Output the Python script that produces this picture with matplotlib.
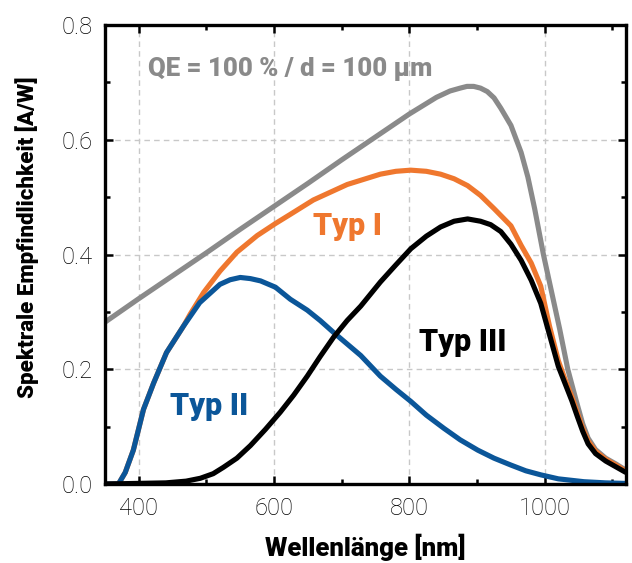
import matplotlib
matplotlib.use('Agg')
import matplotlib.pyplot as plt
from matplotlib.ticker import MultipleLocator, FormatStrFormatter

# wavelengths [nm] and responsivity [A/W]
wl_qe = [350, 400, 450, 500, 550, 600, 650, 700, 750, 800, 840, 860, 875, 885, 895, 905, 915,
         925, 935, 950, 965, 975, 985, 998, 1010, 1022, 1034, 1046, 1056, 1064, 1075, 1090,
         1105, 1120]
resp_qe = [0.282, 0.323, 0.363, 0.403, 0.444, 0.484, 0.524, 0.565, 0.605, 0.645, 0.674, 0.685,
           0.690, 0.693, 0.693, 0.690, 0.684, 0.673, 0.655, 0.625, 0.578, 0.535, 0.48, 0.40,
           0.335, 0.27, 0.20, 0.147, 0.105, 0.08, 0.06, 0.045, 0.035, 0.024]

wl_typ1 = [350, 370, 380, 392, 407, 422, 441, 466, 476, 496, 520, 545, 575, 602, 624, 658,
           708, 757, 780, 802, 825, 846, 866, 886, 905, 925, 950, 965, 980, 994, 1007, 1020,
           1030, 1040, 1048, 1056, 1064, 1075, 1090, 1105, 1120]
resp_typ1 = [0.0, 0.0, 0.02, 0.059, 0.13, 0.176, 0.229, 0.275, 0.296, 0.334, 0.371, 0.404,
             0.433, 0.454, 0.470, 0.495, 0.522, 0.540, 0.545, 0.547, 0.545, 0.540, 0.532,
             0.520, 0.503, 0.480, 0.45, 0.416, 0.385, 0.345, 0.275, 0.215, 0.182, 0.152,
             0.124, 0.097, 0.075, 0.057, 0.043, 0.033, 0.022]

wl_typ2 = [350, 370, 380, 392, 407, 422, 441, 466, 490, 520, 535, 550, 565, 580, 602, 624,
           649, 668, 688, 708, 728, 757, 780, 802, 825, 851, 875, 901, 925, 950, 972, 994,
           1020, 1058, 1090, 1120]
resp_typ2 = [0.0, 0.0, 0.02, 0.059, 0.13, 0.176, 0.229, 0.275, 0.316, 0.348, 0.356, 0.360,
             0.358, 0.354, 0.343, 0.322, 0.303, 0.285, 0.264, 0.244, 0.224, 0.188, 0.165,
             0.144, 0.12, 0.097, 0.077, 0.059, 0.045, 0.033, 0.023, 0.016, 0.009, 0.004,
             0.002, 0.001]

wl_typ3 = [350, 440, 470, 491, 510, 525, 545, 565, 587, 609, 629, 649, 668, 688, 708, 728,
           757, 780, 802, 825, 846, 866, 886, 905, 920, 935, 950, 965, 980, 994, 1007, 1020,
           1030, 1040, 1048, 1056, 1064, 1075, 1090, 1105, 1120]
resp_typ3 = [0.0, 0.002, 0.005, 0.01, 0.018, 0.029, 0.045, 0.067, 0.095, 0.125, 0.155, 0.188,
             0.222, 0.256, 0.285, 0.31, 0.352, 0.382, 0.41, 0.432, 0.448, 0.458, 0.462,
             0.458, 0.452, 0.44, 0.418, 0.39, 0.355, 0.315, 0.26, 0.205, 0.175, 0.145, 0.118,
             0.092, 0.07, 0.053, 0.04, 0.03, 0.02]

c_grey = '#8a8a8a'
c_orange = '#ef772e'
c_blue = '#0b5699'
lw = 3.7

bold = dict(family=['Roboto', 'DejaVu Sans'], weight='black')

fig = plt.figure(figsize=(6.32, 5.63), dpi=100)
ax = fig.add_axes([0.166, 0.1403, 0.8245, 0.8153])

style = dict(lw=lw, solid_capstyle='butt', solid_joinstyle='round')
ax.plot(wl_qe, resp_qe, color=c_grey, zorder=3, **style)
ax.plot(wl_typ1, resp_typ1, color=c_orange, zorder=4, **style)
ax.plot(wl_typ2, resp_typ2, color=c_blue, zorder=5, **style)
ax.plot(wl_typ3, resp_typ3, color='black', zorder=6, **style)

ax.set_xlim(350, 1120)
ax.set_ylim(0, 0.8)
ax.xaxis.set_major_locator(MultipleLocator(200))
ax.xaxis.set_minor_locator(MultipleLocator(100))
ax.yaxis.set_major_locator(MultipleLocator(0.2))
ax.yaxis.set_minor_locator(MultipleLocator(0.1))
ax.yaxis.set_major_formatter(FormatStrFormatter('%.1f'))

ax.grid(True, which='major', color='#c8c8c8', ls=(0, (4, 3)), lw=1.0, zorder=0)
for s in ax.spines.values():
    s.set_linewidth(2.4)
    s.set_zorder(7)
ax.tick_params(which='both', direction='in', top=True, right=True, width=1.8)
ax.tick_params(which='major', length=6, pad=9)
ax.tick_params(which='minor', length=3.5)
for lab in ax.get_xticklabels() + ax.get_yticklabels():
    lab.set_fontfamily(['Roboto', 'DejaVu Sans'])
    lab.set_fontweight('light')
    lab.set_fontsize(17)

ax.set_xlabel('Wellenlänge [nm]', fontsize=18.5, labelpad=10, **bold)
fig.text(0.043, 0.579, 'Spektrale Empfindlichkeit [A/W]', rotation=90, fontsize=16,
         ha='center', va='center', **bold)

ax.text(413, 0.711, 'QE = 100 % / d = 100 µm', color=c_grey, fontsize=18.5,
        ha='left', va='baseline', **bold)
ax.text(658, 0.434, 'Typ I', color=c_orange, fontsize=22, ha='left', va='baseline', **bold)
ax.text(446, 0.121, 'Typ II', color=c_blue, fontsize=22, ha='left', va='baseline', **bold)
ax.text(814, 0.232, 'Typ III', color='black', fontsize=22, ha='left', va='baseline', **bold)

fig.savefig('out.png', dpi=100)
